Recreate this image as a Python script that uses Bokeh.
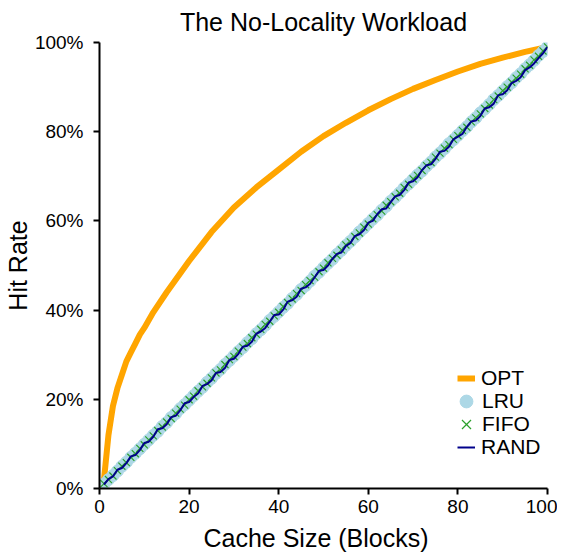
from bokeh.plotting import figure
from bokeh.layouts import column
from bokeh.models import Legend, LegendItem, PrintfTickFormatter, Range1d, Div
from bokeh.embed import file_html
from bokeh.resources import INLINE

# ---- data (hit rate in percent) ----
cache_sizes = list(range(1, 101))

opt_sizes = [1, 2, 3, 4, 5, 6, 7, 8, 9, 10, 12, 15, 20, 25, 30, 35, 40, 45,
             50, 55, 60, 65, 70, 75, 80, 85, 90, 95, 100]
opt_hit = [2.0, 12.0, 18.5, 22.5, 25.5, 28.5, 30.5, 32.5, 34.5, 36.0, 39.5,
           44.0, 51.0, 57.5, 63.0, 67.5, 71.5, 75.5, 79.0, 82.0, 84.8, 87.3,
           89.6, 91.6, 93.5, 95.2, 96.6, 97.9, 99.0]

lru_hit = [1.0, 2.0, 2.9, 3.9, 5.0, 5.9, 7.0, 7.9, 8.9, 9.9,
           10.9, 11.9, 12.8, 13.9, 14.8, 15.9, 16.8, 17.9, 18.8, 19.8,
           20.8, 21.8, 22.7, 23.8, 24.7, 25.8, 26.7, 27.8, 28.7, 29.7,
           30.7, 31.6, 32.7, 33.6, 34.7, 35.6, 36.6, 37.7, 38.6, 39.6,
           40.6, 41.5, 42.6, 43.5, 44.6, 45.5, 46.5, 47.6, 48.5, 49.5,
           50.5, 51.4, 52.5, 53.4, 54.5, 55.4, 56.4, 57.5, 58.4, 59.4,
           60.4, 61.3, 62.4, 63.3, 64.4, 65.3, 66.3, 67.4, 68.3, 69.3,
           70.3, 71.2, 72.3, 73.2, 74.3, 75.2, 76.2, 77.3, 78.2, 79.2,
           80.2, 81.1, 82.2, 83.1, 84.2, 85.1, 86.1, 87.2, 88.1, 89.1,
           90.1, 91.0, 92.1, 93.0, 94.1, 95.0, 96.0, 97.1, 98.0, 99.0]

fifo_hit = [1.1, 2.0, 2.8, 4.0, 5.0, 5.8, 7.0, 7.8, 9.0, 9.8,
            10.9, 11.8, 13.0, 13.8, 14.9, 15.7, 16.9, 17.8, 18.7, 19.9,
            20.7, 21.9, 22.8, 23.6, 24.8, 25.9, 26.6, 27.8, 28.9, 29.6,
            30.8, 31.7, 32.5, 33.8, 34.6, 35.7, 36.8, 37.5, 38.7, 39.5,
            40.8, 41.7, 42.5, 43.7, 44.4, 45.7, 46.6, 47.4, 48.6, 49.4,
            50.6, 51.6, 52.3, 53.5, 54.6, 55.3, 56.5, 57.3, 58.6, 59.3,
            60.5, 61.4, 62.2, 63.5, 64.3, 65.4, 66.2, 67.5, 68.2, 69.4,
            70.2, 71.3, 72.4, 73.1, 74.3, 75.2, 76.3, 77.1, 78.3, 79.1,
            80.3, 81.0, 82.2, 83.1, 84.0, 85.2, 86.0, 87.2, 88.0, 89.2,
            90.0, 91.1, 92.0, 92.9, 94.1, 94.9, 96.1, 96.9, 98.1, 99.0]

rand_hit = [0.9, 2.1, 2.7, 4.2, 4.6, 5.7, 7.2, 7.5, 8.6, 10.2,
            10.5, 11.6, 13.3, 13.5, 14.4, 16.0, 16.3, 17.5, 19.1, 19.4,
            20.5, 21.3, 23.0, 23.4, 24.2, 25.9, 26.1, 27.0, 28.8, 29.1,
            30.2, 31.8, 32.0, 32.9, 34.7, 35.2, 36.0, 37.4, 38.9, 39.0,
            40.1, 41.9, 42.2, 43.0, 44.8, 45.1, 45.9, 47.3, 48.8, 49.0,
            50.0, 51.5, 52.6, 52.9, 54.4, 55.0, 56.6, 57.0, 57.9, 59.6,
            60.0, 61.5, 62.6, 62.8, 64.2, 65.5, 65.8, 66.9, 68.6, 68.9,
            69.8, 71.4, 72.5, 72.7, 73.9, 75.5, 75.7, 76.6, 78.3, 78.9,
            79.5, 81.1, 82.3, 82.5, 83.5, 85.2, 85.5, 86.3, 88.2, 88.4,
            89.3, 90.9, 91.4, 92.2, 93.8, 94.4, 95.3, 96.5, 97.6, 99.0]

x_ticks = [0, 20, 40, 60, 80, 100]
y_ticks = [0, 20, 40, 60, 80, 100]

FONT = "Liberation Sans"
FIG_W, FIG_H, LABEL_H = 557, 518, 19
BORDER_L, BORDER_R = 94, 10

p = figure(width=FIG_W, height=FIG_H, output_backend="svg",
           toolbar_location=None,
           x_range=Range1d(0, 100), y_range=Range1d(0, 100),
           min_border_left=BORDER_L, min_border_right=BORDER_R,
           min_border_top=42, min_border_bottom=30,
           title="The No-Locality Workload")

p.title.text_font = FONT
p.title.text_font_size = "25px"
p.title.text_font_style = "normal"
p.title.align = "center"
p.title.vertical_align = "top"
p.title.text_color = "black"

p.xgrid.visible = False
p.ygrid.visible = False
p.outline_line_color = None
p.background_fill_color = "white"
p.border_fill_color = "white"

for ax in (p.xaxis, p.yaxis):
    ax.minor_tick_line_color = None
    ax.major_tick_in = 0
    ax.major_tick_out = 6
    ax.axis_line_width = 2
    ax.major_tick_line_width = 2
    ax.axis_line_color = "black"
    ax.major_tick_line_color = "black"
    ax.major_label_text_font = FONT
    ax.major_label_text_font_size = "19px"
    ax.major_label_text_color = "black"
    ax.axis_label_text_font = FONT
    ax.axis_label_text_font_size = "25px"
    ax.axis_label_text_font_style = "normal"
    ax.axis_label_text_color = "black"

p.xaxis.ticker = x_ticks
p.yaxis.ticker = y_ticks
p.yaxis.formatter = PrintfTickFormatter(format="%d%%")
p.xaxis.major_label_standoff = 5
p.yaxis.major_label_standoff = 10
p.yaxis.axis_label_standoff = 0
p.yaxis.axis_label = "Hit Rate"

opt_r = p.line(opt_sizes, opt_hit, line_color="#ffa500", line_width=6)
lru_r = p.scatter(cache_sizes, lru_hit, marker="circle", size=12,
                  fill_color="#add8e6", line_color="#add8e6")
fifo_r = p.scatter(cache_sizes, fifo_hit, marker="x", size=10,
                   line_color="#2ca02c", line_width=1.2)
rand_r = p.line(cache_sizes, rand_hit, line_color="#00008b", line_width=2)

# one legend per entry, so that each marker can have its own glyph box
entries = [("OPT", opt_r, (358, 98), 18, 24, 6),
           ("LRU", lru_r, (351, 67), 32, 40, 0),
           ("FIFO", fifo_r, (351, 43), 32, 42, 0),
           ("RAND", rand_r, (358, 29), 18, 24, 6)]
for label, r, loc, gw, gh, standoff in entries:
    lg = Legend(items=[LegendItem(label=label, renderers=[r])],
                location=loc, border_line_color=None,
                background_fill_alpha=0, padding=0, margin=0, spacing=0,
                glyph_width=gw, glyph_height=gh, label_height=gh,
                label_standoff=standoff, label_text_font=FONT,
                label_text_font_size="21px", label_text_color="black")
    p.add_layout(lg)

# x-axis title, set as real text under the plot frame
frame_w = FIG_W - BORDER_L - 19
x_title = Div(
    text=(f'<div style="position:relative; top:9px; margin-left:{BORDER_L}px; '
          f'width:{frame_w}px; text-align:center; white-space:nowrap; '
          f'font-family:\'{FONT}\'; font-size:25px; line-height:23px; '
          'color:black;">Cache Size (Blocks)</div>'),
    width=FIG_W, height=LABEL_H, margin=0, styles={"overflow": "visible"})

layout = column(p, x_title, spacing=0)

open("out.html", "w").write(file_html(layout, INLINE))
